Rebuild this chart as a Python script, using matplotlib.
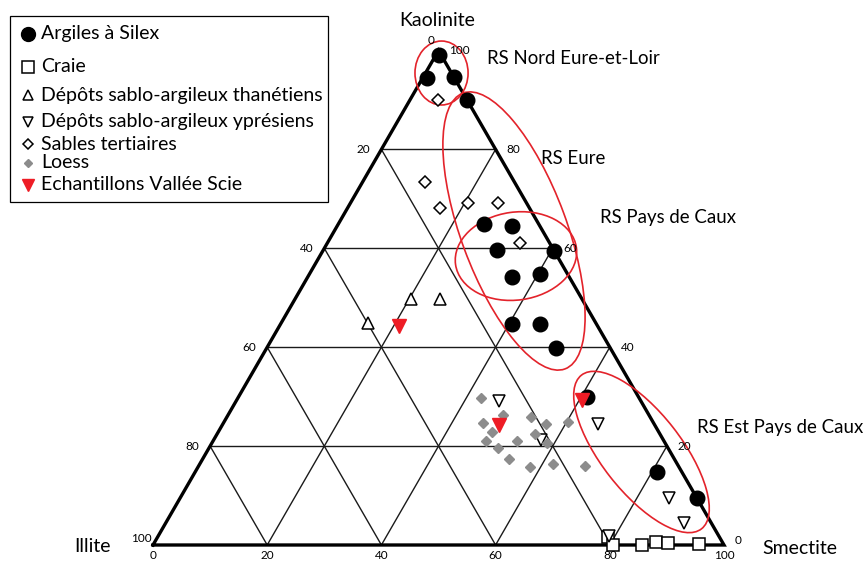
import numpy as np
import matplotlib
matplotlib.use('Agg')
import matplotlib.pyplot as plt
from matplotlib.patches import Ellipse, Rectangle

plt.rcParams['font.family'] = ['Lato', 'DejaVu Sans']

# ---------------- data: (Kaolinite %, Smectite %), Illite = 100 - K - S ----------------
argiles_K = [99.0, 94.4, 94.6, 90.0, 64.9, 64.5, 59.7, 59.5, 54.2, 54.8, 44.7, 44.7, 39.8, 29.9, 14.8, 9.5]
argiles_S = [0.5, 0.8, 5.4, 10.0, 25.5, 30.6, 30.4, 40.5, 35.8, 40.4, 40.5, 45.4, 50.7, 61.0, 80.9, 90.5]

craie_K = [1.6, 0.0, 0.0, 0.6, 0.4, 0.2]
craie_S = [78.9, 80.6, 85.6, 87.8, 90.0, 95.5]

thanet_K = [44.9, 49.7, 49.7]
thanet_S = [15.2, 20.3, 25.4]

ypres_K = [29.1, 21.2, 24.5, 9.5, 4.4, 1.8]
ypres_S = [46.0, 57.3, 65.7, 85.6, 90.8, 79.0]

sables_K = [90.0, 73.4, 68.2, 69.2, 69.2, 61.1]
sables_S = [4.9, 10.9, 16.2, 20.6, 25.8, 33.7]

loess_K = [29.7, 26.3, 24.7, 22.9, 21.0, 19.6, 21.0, 17.4, 25.9, 24.5, 22.4, 20.6, 24.9, 16.4, 15.8, 16.0]
loess_S = [42.6, 48.1, 45.5, 47.9, 47.8, 50.6, 53.2, 53.6, 53.3, 56.6, 55.7, 58.7, 60.2, 61.9, 58.1, 67.7]

scie_K = [44.3, 24.3, 29.3]
scie_S = [20.9, 48.5, 60.5]

grid_levels = [20, 40, 60, 80]
tick_values = [0, 20, 40, 60, 80, 100]

legend_labels = ["Argiles à Silex", "Craie", "Dépôts sablo-argileux thanétiens",
                 "Dépôts sablo-argileux yprésiens", "Sables tertiaires", "Loess",
                 "Echantillons Vallée Scie"]
region_labels = ["RS Nord Eure-et-Loir", "RS Eure", "RS Pays de Caux", "RS Est Pays de Caux"]
apex_labels = ["Kaolinite", "Illite", "Smectite"]

# ---------------------------------------------------------------------------------------
H = np.sqrt(3) / 2
W, Hpx = 863, 562


def tern(K, S):
    K = np.asarray(K, dtype=float) / 100.0
    S = np.asarray(S, dtype=float) / 100.0
    return S + K / 2.0, K * H


def px2pt(p):
    return p * 72.0 / 100.0


fig = plt.figure(figsize=(W / 100, Hpx / 100), dpi=100)
fig.patch.set_facecolor('white')
ax = fig.add_axes([153 / W, 17 / Hpx, 571 / W, 494.5 / Hpx])
ax.set_xlim(0, 1)
ax.set_ylim(0, H)
ax.axis('off')

# grid
glw = 1.0
for v in grid_levels:
    x, y = tern([v, v], [0, 100 - v])
    ax.plot(x, y, color='#1a1a1a', lw=glw, clip_on=False, zorder=1)
    x, y = tern([0, 100 - v], [v, v])
    ax.plot(x, y, color='#1a1a1a', lw=glw, clip_on=False, zorder=1)
    x, y = tern([100 - v, 0], [0, 100 - v])
    ax.plot(x, y, color='#1a1a1a', lw=glw, clip_on=False, zorder=1)

# edges
x, y = tern([0, 0, 100, 0], [0, 100, 0, 0])
ax.plot(x, y, color='black', lw=2.4, clip_on=False, zorder=2, solid_joinstyle='miter')

# ellipses (axis units, 1 unit = side of triangle)
red = '#e3232b'
ells = [((0.5053, 0.8266), 0.093, 0.112, 0),
        ((0.6322, 0.5499), 0.515, 0.185, -69.7),
        ((0.6357, 0.5060), 0.2137, 0.154, 8),
        ((0.8555, 0.1629), 0.3415, 0.140, -52)]
for c, w, h, a in ells:
    ax.add_patch(Ellipse(c, w, h, angle=a, fill=False, ec=red, lw=1.2, clip_on=False, zorder=3))

# markers
mk = dict(clip_on=False, linestyle='none')
x, y = tern(argiles_K, argiles_S)
ax.plot(x, y, marker='o', ms=10.5, mfc='black', mec='black', zorder=5, **mk)
x, y = tern(craie_K, craie_S)
ax.plot(x, y, marker='s', ms=8, mfc='white', mec='black', mew=1.1, zorder=5, **mk)
x, y = tern(thanet_K, thanet_S)
ax.plot(x, y, marker='^', ms=8.5, mfc='white', mec='black', mew=1.1, zorder=5, **mk)
x, y = tern(ypres_K, ypres_S)
ax.plot(x, y, marker='v', ms=8.5, mfc='white', mec='black', mew=1.1, zorder=6, **mk)
x, y = tern(sables_K, sables_S)
ax.plot(x, y, marker='D', ms=6.0, mfc='white', mec='black', mew=1.1, zorder=5, **mk)
x, y = tern(loess_K, loess_S)
ax.plot(x, y, marker='D', ms=5.6, mfc='#8c8c8c', mec='#8c8c8c', zorder=6, **mk)
x, y = tern(scie_K, scie_S)
ax.plot(x, y, marker='v', ms=9.5, mfc='#ee1c25', mec='#ee1c25', zorder=7, **mk)

# tick labels
tfs = 8.5
for v in tick_values:
    # bottom (Smectite)
    x, y = tern(0, v)
    ax.annotate(str(v), (x, y), xytext=(0, px2pt(-5)), textcoords='offset points',
                ha='center', va='top', fontsize=tfs, annotation_clip=False)
    # right edge (Kaolinite)
    x, y = tern(v, 100 - v)
    dy = 0
    if v == 0:
        dy = 5
    ax.annotate(str(v), (x, y), xytext=(px2pt(11), px2pt(dy)), textcoords='offset points',
                ha='left', va='center', fontsize=tfs, annotation_clip=False)
    # left edge (Illite)
    x, y = tern(100 - v, 0)
    if v == 0:
        off, ha = (px2pt(-7), px2pt(10)), 'center'
    elif v == 100:
        off, ha = (px2pt(-1), px2pt(6)), 'right'
    else:
        off, ha = (px2pt(-11), 0), 'right'
    ax.annotate(str(v), (x, y), xytext=off, textcoords='offset points',
                ha=ha, va='center', fontsize=tfs, annotation_clip=False)

# overlay in pixel coordinates for labels and legend
ov = fig.add_axes([0, 0, 1, 1])
ov.set_xlim(0, W)
ov.set_ylim(Hpx, 0)
ov.axis('off')

afs = 14
ov.text(437, 20, apex_labels[0], ha='center', va='center', fontsize=afs)
ov.text(92, 547, apex_labels[1], ha='center', va='center', fontsize=afs)
ov.text(800, 549, apex_labels[2], ha='center', va='center', fontsize=afs)

rfs = 13.4
ov.text(487, 58, region_labels[0], ha='left', va='center', fontsize=rfs)
ov.text(541, 159, region_labels[1], ha='left', va='center', fontsize=rfs)
ov.text(600, 218, region_labels[2], ha='left', va='center', fontsize=rfs)
ov.text(697, 428, region_labels[3], ha='left', va='center', fontsize=rfs)

# legend
lfs = 14
ov.add_patch(Rectangle((10, 16), 318, 186, fill=False, ec='black', lw=0.9))
rows_y = [34, 67, 95, 122, 144, 163, 185]
styles = [dict(marker='o', ms=10, mfc='black', mec='black'),
          dict(marker='s', ms=9, mfc='white', mec='black', mew=1.1),
          dict(marker='^', ms=7.5, mfc='white', mec='black', mew=1.1),
          dict(marker='v', ms=7.5, mfc='white', mec='black', mew=1.1),
          dict(marker='D', ms=5.5, mfc='white', mec='black', mew=1.1),
          dict(marker='D', ms=4.5, mfc='#8c8c8c', mec='#8c8c8c'),
          dict(marker='v', ms=8, mfc='#ee1c25', mec='#ee1c25')]
for lab, yy, st in zip(legend_labels, rows_y, styles):
    ov.plot([28], [yy], linestyle='none', **st)
    ov.text(41, yy, lab, ha='left', va='center', fontsize=lfs)

fig.savefig('out.png', dpi=100, facecolor='white')
